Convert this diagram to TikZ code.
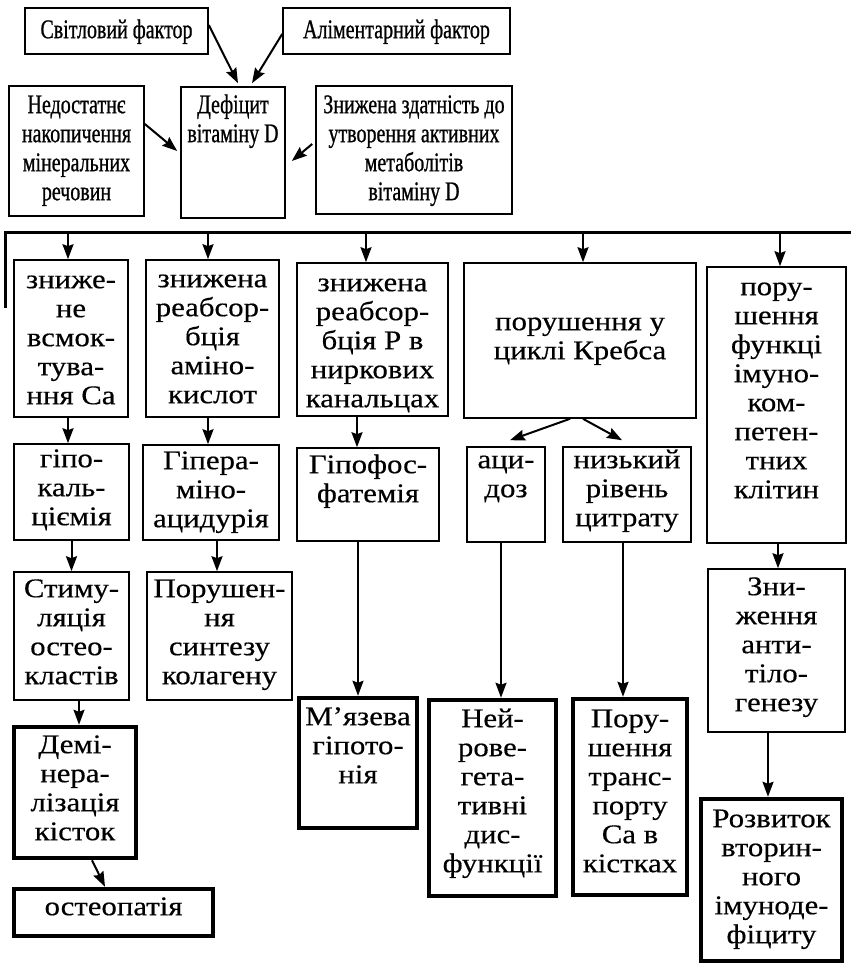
\documentclass[tikz,border=0pt]{standalone}
\usepackage{fontspec}
\setmainfont{Liberation Serif}
\newfontfamily\topf[FakeStretch=0.74,FakeBold=0.8]{Liberation Serif}
\newfontfamily\botf[FakeStretch=1.14,FakeBold=0.4]{Liberation Serif}
\usetikzlibrary{arrows.meta,calc}
\tikzset{
  thinbox/.style={draw, line width=1.6pt, inner sep=0pt},
  thickbox/.style={draw, line width=4.5pt, inner sep=0pt},
  tl/.style={inner sep=0pt, align=center, anchor=north, font=\topf\fontsize{27}{29}\selectfont},
  bl/.style={inner sep=0pt, align=center, anchor=north, font=\botf\fontsize{27}{29}\selectfont},
  arr/.style={line width=2pt, -{Stealth[length=15pt,width=11pt,inset=2pt]}},
  busline/.style={line width=3pt},
}
% #1 box style, #2 label style, #3 name, #4 x1, #5 y1, #6 x2, #7 y2, #8 first baseline, #9 text
\newcommand\bx[9]{%
  \node[#1, minimum width={(#6-#4)*1pt}, minimum height={(#7-#5)*1pt}] (#3) at ({(#4+#6)/2},{(#5+#7)/2}) {};
  \node[#2] (#3t) at ({(#4+#6)/2},{#8-20.3}) {\strut #9};
}
\begin{document}
\begin{tikzpicture}[x=1pt,y=-1pt]
\useasboundingbox (0,0) rectangle (851,966);
% top
\bx{thinbox}{tl}{sv}{25}{8}{208}{54}{38}{Світловий фактор}
\bx{thinbox}{tl}{al}{283}{8}{510}{54}{38}{Аліментарний фактор}
\bx{thinbox}{tl}{nd}{9}{86}{144}{216}{113}{Недостатнє\\накопичення\\мінеральних\\речовин}
\bx{thinbox}{tl}{df}{181}{87}{285}{218}{113}{Дефіцит\\вітаміну D}
\bx{thinbox}{tl}{zn}{316}{86}{512}{214}{113}{Знижена здатність до\\утворення активних\\метаболітів\\вітаміну D}
% row 2
\bx{thinbox}{bl}{a1}{14}{260}{128}{417}{288}{зниже-\\не\\всмок-\\тува-\\ння Са}
\bx{thinbox}{bl}{a2}{146}{260}{279}{417}{287}{знижена\\реабсор-\\бція\\аміно-\\кислот}
\bx{thinbox}{bl}{a3}{297}{263}{448}{416}{291}{знижена\\реабсор-\\бція Р в\\ниркових\\канальцах}
\bx{thinbox}{bl}{a4}{464}{263}{696}{418}{330}{порушення у\\циклі Кребса}
\bx{thinbox}{bl}{a5}{707}{267}{846}{543}{295}{пору-\\шення\\функці\\імуно-\\ком-\\петен-\\тних\\клітин}
% row 3
\bx{thinbox}{bl}{b1}{14}{444}{129}{540}{467}{гіпо-\\каль-\\ціємія}
\bx{thinbox}{bl}{b2}{143}{445}{279}{540}{469}{Гіпера-\\міно-\\ацидурія}
\bx{thinbox}{bl}{b3}{297}{448}{439}{541}{473}{Гіпофос-\\фатемія}
\bx{thinbox}{bl}{c1}{467}{447}{545}{542}{468}{аци-\\доз}
\bx{thinbox}{bl}{c2}{563}{447}{691}{542}{468}{низький\\рівень\\цитрату}
% row 4
\bx{thinbox}{bl}{d1}{14}{572}{129}{700}{597}{Стиму-\\ляція\\остео-\\кластів}
\bx{thinbox}{bl}{d2}{147}{572}{292}{700}{597}{Порушен-\\ня\\синтезу\\колагену}
\bx{thinbox}{bl}{e5}{708}{569}{845}{732}{595}{Зни-\\ження\\анти-\\тіло-\\генезу}
% thick result boxes
\bx{thickbox}{bl}{f1}{14}{727}{136}{858}{753}{Демі-\\нера-\\лізація\\кісток}
\bx{thickbox}{bl}{g1}{14}{889}{213}{936}{915}{остеопатія}
\bx{thickbox}{bl}{m3}{299}{698}{417}{828}{725}{М’язева\\гіпото-\\нія}
\bx{thickbox}{bl}{n1}{429}{700}{556}{896}{727}{Ней-\\рове-\\гета-\\тивні\\дис-\\функції}
\bx{thickbox}{bl}{n2}{573}{699}{687}{895}{727}{Пору-\\шення\\транс-\\порту\\Са в\\кістках}
\bx{thickbox}{bl}{r5}{701}{799}{842}{961}{827}{Розвиток\\вторин-\\ного\\імуноде-\\фіциту}
% bus
\coordinate (busL) at (5,308);
\coordinate (busTL) at (5,232);
\coordinate (busR) at (851,232);
\draw[busline] (busL) -- (busTL) -- (busR);
\coordinate (p1) at (68,232);
\coordinate (p2) at (208,232);
\coordinate (p3) at (366,232);
\coordinate (p4) at (583,232);
\coordinate (p5) at (780,232);
\draw[arr] (p1) -- (p1 |- a1.north);
\draw[arr] (p2) -- (p2 |- a2.north);
\draw[arr] (p3) -- (p3 |- a3.north);
\draw[arr] (p4) -- (p4 |- a4.north);
\draw[arr] (p5) -- (p5 |- a5.north);
% top arrows
\draw[arr] ([yshift=6pt]sv.east) -- ([xshift=5pt,yshift=3pt]df.north);
\draw[arr] ([yshift=-3pt]al.west) -- ([xshift=19pt,yshift=3pt]df.north);
\draw[arr] ([yshift=27pt]nd.east) -- ([xshift=-3pt,yshift=1.5pt]df.west);
\draw[arr] ([xshift=-3pt,yshift=6pt]zn.west) -- ([xshift=6pt,yshift=-8.5pt]df.east);
% column arrows
\draw[arr] ([xshift=-3pt]a1.south) -- ([xshift=-3pt]a1.south |- b1.north);
\draw[arr] ([xshift=-4.5pt]a2.south) -- ([xshift=-4.5pt]a2.south |- b2.north);
\draw[arr] ([xshift=-15.5pt]a3.south) -- ([xshift=-15.5pt]a3.south |- b3.north);
\draw[arr] (b1.south) -- (b1.south |- d1.north);
\draw[arr] ([xshift=6pt]b2.south) -- ([xshift=6pt]b2.south |- d2.north);
\draw[arr] ([xshift=7.5pt]d1.south) -- ([xshift=7.5pt]d1.south |- f1.north);
\draw[arr] ([xshift=17pt]f1.south) -- ([xshift=-8.5pt]g1.north);
\draw[arr] ([xshift=-10pt]b3.south) -- ([xshift=-10pt]b3.south |- m3.north);
\draw[arr] ([xshift=-10pt]a4.south) -- ([xshift=4pt,yshift=6pt]c1.north);
\draw[arr] ([xshift=3pt]a4.south) -- ([xshift=-5pt,yshift=6pt]c2.north);
\draw[arr] ([xshift=-5pt]c1.south) -- ([xshift=-5pt]c1.south |- n1.north);
\draw[arr] ([xshift=-4pt]c2.south) -- ([xshift=-4pt]c2.south |- n2.north);
\draw[arr] ([xshift=1.5pt]a5.south) -- ([xshift=1.5pt]a5.south |- e5.north);
\draw[arr] ([xshift=-8.5pt]e5.south) -- ([xshift=-8.5pt]e5.south |- r5.north);
\end{tikzpicture}
\end{document}
